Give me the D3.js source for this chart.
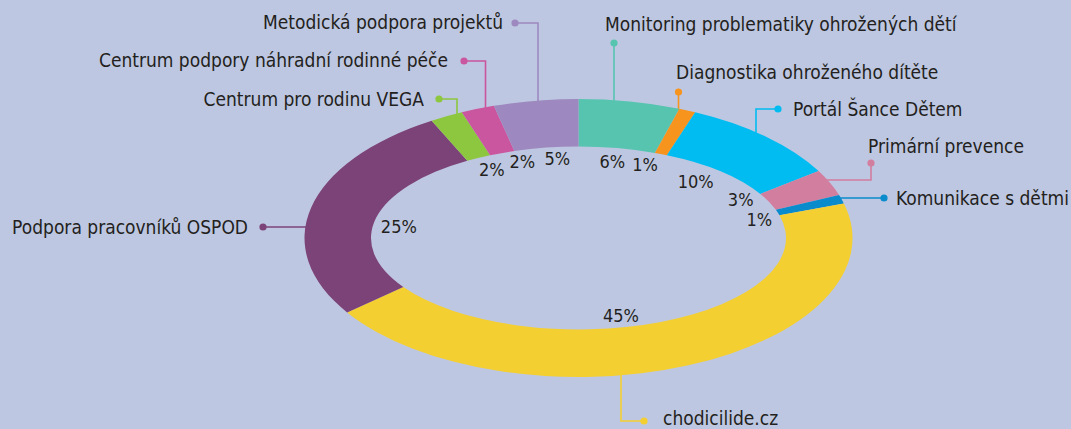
<!DOCTYPE html>
<html>
  <head>
    <meta charset="utf-8">
    <title>Donut</title>
    <script src="https://d3js.org/d3.v7.min.js"></script>
    <style>
      body { margin: 0; background: #bec7e1; }
      svg { display: block; }
      .name { font-family: "DejaVu Sans Condensed", "Liberation Sans Narrow", sans-serif; font-size: 19px; fill: #231f20; }
      .pct { font-family: "DejaVu Sans Condensed", "Liberation Sans Narrow", sans-serif; font-size: 18px; fill: #231f20; }
    </style>
  </head>
  <body>
    <script>
      // data
      var categories = [
        "Monitoring problematiky ohrožených dětí",
        "Diagnostika ohroženého dítěte",
        "Portál Šance Dětem",
        "Primární prevence",
        "Komunikace s dětmi",
        "chodicilide.cz",
        "Podpora pracovníků OSPOD",
        "Centrum pro rodinu VEGA",
        "Centrum podpory náhradní rodinné péče",
        "Metodická podpora projektů"
      ];
      var shares = [6, 1, 10, 3, 1, 45, 25, 2, 2, 5];
      var colors = ["#57c4b0", "#f7941d", "#00bcf1", "#d27e9f", "#0a8bcb",
                    "#f4cf31", "#7c4378", "#8dc63f", "#c9569f", "#9d89bf"];

      var width = 1071, height = 429;
      var cx = 578.5, cy = 238;
      var Rx = 274, Ry = 139;     // outer ellipse
      var rx = 207.5, ry = 91.5;  // inner ellipse
      var lx = 180, ly = 78;      // percent label ellipse

      // leader layout: text position, dot, and how the line reaches the ring
      var layout = {
        "Monitoring problematiky ohrožených dětí": {tx: 605, ty: 31, anchor: "start", dot: [614, 43], vx: 614},
        "Diagnostika ohroženého dítěte": {tx: 676, ty: 79, anchor: "start", dot: [678.5, 92], vx: 678.5},
        "Portál Šance Dětem": {tx: 793, ty: 116, anchor: "start", dot: [778, 109], vx: 756},
        "Primární prevence": {tx: 868, ty: 153, anchor: "start", dot: [871, 163], hy: 180},
        "Komunikace s dětmi": {tx: 1069, ty: 205, anchor: "end", dot: [884, 198], hy: 198},
        "chodicilide.cz": {tx: 663, ty: 425, anchor: "start", dot: [644, 421], vx: 621},
        "Podpora pracovníků OSPOD": {tx: 248, ty: 234, anchor: "end", dot: [263, 227], hy: 227},
        "Centrum pro rodinu VEGA": {tx: 424, ty: 106, anchor: "end", dot: [439, 99], vx: 457},
        "Centrum podpory náhradní rodinné péče": {tx: 448, ty: 67, anchor: "end", dot: [464, 61], vx: 485.5},
        "Metodická podpora projektů": {tx: 503, ty: 29, anchor: "end", dot: [515, 23], vx: 538}
      };
      var nudge = {
        "Diagnostika ohroženého dítěte": [-5, -2],
        "Portál Šance Dětem": [-6, 1],
        "Primární prevence": [-3, -7],
        "Komunikace s dětmi": [8, 3],
        "chodicilide.cz": [-29, 6],
        "Podpora pracovníků OSPOD": [-4, 6],
        "Centrum podpory náhradní rodinné péče": [10, -4],
        "Metodická podpora projektů": [7, -2]
      };

      var color = d3.scaleOrdinal().domain(categories).range(colors);

      var pie = d3.pie().sort(null).value(function(d) { return d.value; });
      var arcs = pie(categories.map(function(c, i) { return {name: c, value: shares[i]}; }));

      function pt(a, ex, ey) { return [cx + ex * Math.sin(a), cy - ey * Math.cos(a)]; }

      function slice(d) {
        var large = (d.endAngle - d.startAngle) > Math.PI ? 1 : 0;
        var o0 = pt(d.startAngle, Rx, Ry), o1 = pt(d.endAngle, Rx, Ry);
        var i1 = pt(d.endAngle, rx, ry), i0 = pt(d.startAngle, rx, ry);
        return "M" + o0 + "A" + Rx + "," + Ry + " 0 " + large + " 1 " + o1 +
               "L" + i1 + "A" + rx + "," + ry + " 0 " + large + " 0 " + i0 + "Z";
      }

      // point on the outer ellipse for a given x (top/bottom) or y (left/right)
      function ringAtX(x, below) {
        var t = (x - cx) / Rx;
        var dy = Ry * Math.sqrt(Math.max(0, 1 - t * t));
        return below ? cy + dy : cy - dy;
      }
      function ringAtY(y, left) {
        var t = (y - cy) / Ry;
        var dx = Rx * Math.sqrt(Math.max(0, 1 - t * t));
        return left ? cx - dx : cx + dx;
      }

      var svg = d3.select("body").append("svg")
                  .attr("width", width)
                  .attr("height", height);

      svg.append("rect")
         .attr("width", width)
         .attr("height", height)
         .attr("fill", "#bec7e1");

      // leader lines
      var leaders = svg.append("g").attr("fill", "none").attr("stroke-width", 1.6);
      arcs.forEach(function(d) {
        var L = layout[d.data.name];
        var pts;
        if (L.vx !== undefined) {
          var below = L.dot[1] > cy;
          pts = [L.dot, [L.vx, L.dot[1]], [L.vx, ringAtX(L.vx, below) + (below ? -2 : 2)]];
        } else {
          var left = L.dot[0] < cx;
          pts = [L.dot, [L.dot[0], L.hy], [ringAtY(L.hy, left) + (left ? 2 : -2), L.hy]];
        }
        leaders.append("path")
               .attr("d", d3.line()(pts))
               .attr("stroke", color(d.data.name));
      });

      // slices
      svg.append("g").selectAll("path")
         .data(arcs)
         .enter()
         .append("path")
         .attr("d", slice)
         .attr("fill", function(d) { return color(d.data.name); });

      // dots and names
      arcs.forEach(function(d) {
        var L = layout[d.data.name];
        svg.append("circle")
           .attr("cx", L.dot[0])
           .attr("cy", L.dot[1])
           .attr("r", 3.6)
           .attr("fill", color(d.data.name));
        svg.append("text")
           .attr("class", "name")
           .attr("x", L.tx)
           .attr("y", L.ty)
           .attr("text-anchor", L.anchor)
           .text(d.data.name);
      });

      // percent labels
      svg.append("g").selectAll("text")
         .data(arcs)
         .enter()
         .append("text")
         .attr("class", "pct")
         .attr("text-anchor", "middle")
         .attr("dy", "0.35em")
         .attr("x", function(d) {
           var a = (d.startAngle + d.endAngle) / 2;
           return pt(a, lx, ly)[0] + (nudge[d.data.name] || [0, 0])[0];
         })
         .attr("y", function(d) {
           var a = (d.startAngle + d.endAngle) / 2;
           return pt(a, lx, ly)[1] + (nudge[d.data.name] || [0, 0])[1];
         })
         .text(function(d) { return d.data.value + "%"; });
    </script>
  </body>
</html>
